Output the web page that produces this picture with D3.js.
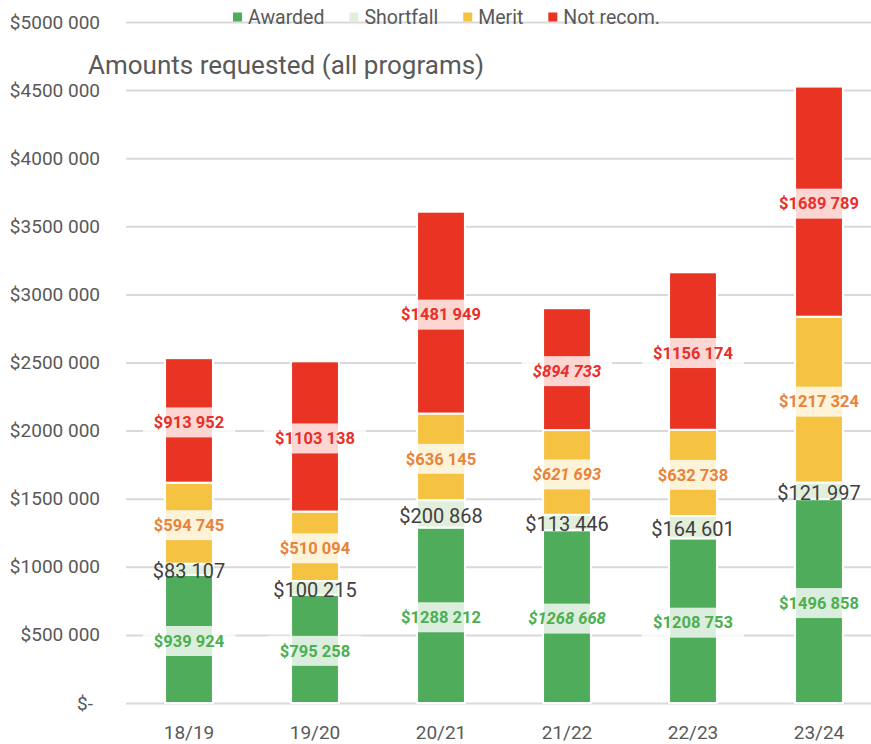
<!DOCTYPE html>
<html><head><meta charset="utf-8">
<script src="https://cdn.jsdelivr.net/npm/d3@7"></script>
<style>
body{margin:0;background:#fff}
svg{display:block;font-family:Roboto, "Noto Sans", sans-serif}
</style>
</head><body>
<svg id="c" width="871" height="744"></svg>
<script>
// ---- data ----
const categories = ["18/19", "19/20", "20/21", "21/22", "22/23", "23/24"];
const awarded   = [939924, 795258, 1288212, 1268668, 1208753, 1496858];
const shortfall = [83107, 100215, 200868, 113446, 164601, 121997];
const merit     = [594745, 510094, 636145, 621693, 632738, 1217324];
const notRecom  = [913952, 1103138, 1481949, 894733, 1156174, 1689789];
const seriesNames = ["Awarded", "Shortfall", "Merit", "Not recom."];
const yTickValues = [0, 500000, 1000000, 1500000, 2000000, 2500000, 3000000, 3500000, 4000000, 4500000, 5000000];
const chartTitle = "Amounts requested (all programs)";
const italicCategories = ["21/22"];

// ---- styles ----
const barColors = {"Awarded":"#4EAC5B","Shortfall":"#E2EFDA","Merit":"#F5C242","Not recom.":"#E93323"};
const labelColors = {"Awarded":"#4CAF50","Shortfall":"#404040","Merit":"#E8833A","Not recom.":"#E8302A"};
const textGray = "#595959";

const svg = d3.select("#c");
const W = 871;

const rows = categories.map((c, i) => ({cat: c, "Awarded": awarded[i], "Shortfall": shortfall[i], "Merit": merit[i], "Not recom.": notRecom[i]}));
const stacked = d3.stack().keys(seriesNames)(rows);

const x = d3.scaleBand().domain(categories).range([126, 882]).paddingInner(0.62).paddingOuter(0.31);
const y = d3.scaleLinear().domain([0, 5000000]).range([703, 22]);

function fmt(v) {
  if (v === 0) return "$-";
  const th = Math.floor(v / 1000), r = v % 1000;
  return "$" + th + " " + String(r).padStart(3, "0");
}

// y axis + gridlines
const yAxis = svg.append("g").attr("transform", "translate(126,0)")
  .call(d3.axisLeft(y).tickValues(yTickValues).tickSize(-(W - 126)).tickPadding(26).tickFormat(fmt));
yAxis.select(".domain").remove();
yAxis.selectAll(".tick line").attr("stroke", "#D9D9D9").attr("stroke-width", 2);
yAxis.selectAll(".tick text").attr("fill", textGray).style("font-size", "19px").style("font-family", "Roboto, sans-serif")
  .attr("dx", d => d === 0 ? -7 : 0);

// x axis
const xAxis = svg.append("g").attr("transform", "translate(0,703)")
  .call(d3.axisBottom(x).tickSize(0).tickPadding(23));
xAxis.select(".domain").remove();
xAxis.selectAll(".tick text").attr("fill", textGray).style("font-size", "19px").style("font-family", "Roboto, sans-serif");

// bars
const layer = svg.append("g").selectAll("g").data(stacked).join("g")
  .attr("fill", d => barColors[d.key]);
layer.selectAll("rect").data(d => d.map(p => ({p, key: d.key}))).join("rect")
  .attr("x", d => x(d.p.data.cat))
  .attr("width", x.bandwidth())
  .attr("y", d => y(d.p[1]))
  .attr("height", d => y(d.p[0]) - y(d.p[1]))
  .attr("stroke", "#fff").attr("stroke-width", 2);

// labels
const labG = svg.append("g");
stacked.forEach(s => {
  s.forEach(p => {
    const cat = p.data.cat;
    const cx = x(cat) + x.bandwidth() / 2;
    const cy = (y(p[0]) + y(p[1])) / 2 + 2;
    const isShort = s.key === "Shortfall";
    const g = labG.append("g");
    const bg = g.append("rect");
    const t = g.append("text")
      .attr("x", cx).attr("y", cy).attr("dy", "0.35em")
      .attr("text-anchor", "middle")
      .attr("fill", labelColors[s.key])
      .style("font-size", isShort ? "20px" : "16.5px")
      .style("font-weight", isShort ? "400" : "700")
      .style("font-style", (!isShort && italicCategories.includes(cat)) ? "italic" : "normal")
      .text(fmt(p.data[s.key]));
    if (!isShort) {
      const w = t.node().getComputedTextLength() + 22;
      bg.attr("x", cx - w / 2).attr("y", cy - 15).attr("width", w).attr("height", 30)
        .attr("fill", "#fff").attr("fill-opacity", 0.8);
    } else {
      bg.remove();
    }
  });
});

// title
svg.append("text").attr("x", 88).attr("y", 74).attr("fill", textGray)
  .style("font-size", "26px").text(chartTitle);

// legend
const leg = svg.append("g").attr("transform", "translate(233,17)");
let lx = 0;
seriesNames.forEach(n => {
  const g = leg.append("g").attr("transform", `translate(${lx},0)`);
  g.append("rect").attr("x", 0).attr("y", -4.5).attr("width", 9).attr("height", 9).attr("fill", barColors[n]);
  const t = g.append("text").attr("x", 15).attr("y", 0).attr("dy", "0.36em")
    .attr("fill", textGray).style("font-size", "19.5px").text(n);
  lx += 15 + t.node().getComputedTextLength() + 25;
});
</script>
</body></html>
